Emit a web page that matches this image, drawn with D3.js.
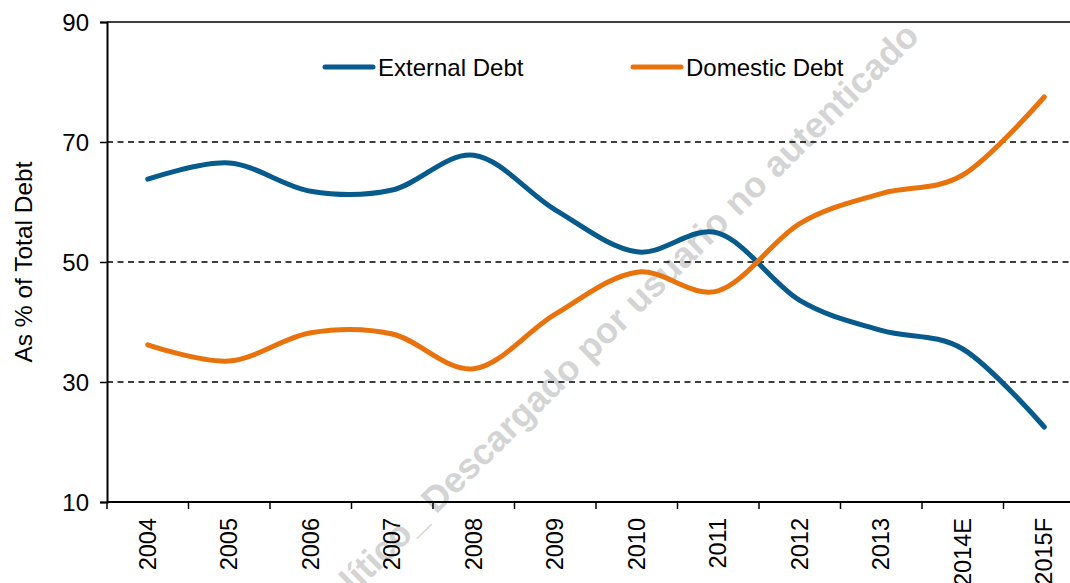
<!DOCTYPE html>
<html lang="en">
<head>
    <meta charset="UTF-8">
    <title>External vs Domestic Debt</title>
    <script src="https://d3js.org/d3.v7.min.js"></script>
    <style>
        body { margin: 0; background: #fff; overflow: hidden; }
        text { font-family: "Liberation Sans", Arial, sans-serif; fill: #000; }
    </style>
</head>
<body>
    <script>
        // Data
        const years = ["2004", "2005", "2006", "2007", "2008", "2009", "2010", "2011", "2012", "2013", "2014E", "2015F"];
        const externalDebt = [63.8, 66.5, 61.8, 62.0, 67.8, 58.7, 51.7, 54.8, 43.6, 38.6, 35.5, 22.5];
        const domesticDebt = [36.2, 33.5, 38.2, 38.0, 32.2, 41.3, 48.3, 45.2, 56.4, 61.4, 64.5, 77.5];
        const yTicks = [10, 30, 50, 70, 90];
        const gridValues = [30, 50, 70];

        const W = 1070, H = 583;
        const plotLeft = 107, plotTop = 22, plotBottom = 502;
        const bandW = 81.5;

        const svg = d3.select("body").append("svg")
            .attr("width", W)
            .attr("height", H);

        // Scales
        const x = d3.scaleBand()
            .domain(years)
            .range([plotLeft, plotLeft + bandW * years.length])
            .padding(0);

        const y = d3.scaleLinear()
            .domain([10, 90])
            .range([plotBottom, plotTop]);

        // Watermark (behind everything)
        svg.append("text")
            .attr("transform", "translate(921,38) rotate(-44.5)")
            .attr("text-anchor", "end")
            .style("font-size", "36px")
            .style("font-weight", "bold")
            .style("fill", "#d4d4d4")
            .text("Analítico_ Descargado por usuario no autenticado");

        // Dashed gridlines
        svg.selectAll(".grid")
            .data(gridValues)
            .enter()
            .append("line")
            .attr("x1", plotLeft)
            .attr("x2", W)
            .attr("y1", d => y(d))
            .attr("y2", d => y(d))
            .attr("stroke", "#000")
            .attr("stroke-width", 1.5)
            .attr("stroke-dasharray", "6,4.5");

        // Top solid line at 90
        svg.append("line")
            .attr("x1", plotLeft)
            .attr("x2", W)
            .attr("y1", y(90))
            .attr("y2", y(90))
            .attr("stroke", "#000")
            .attr("stroke-width", 1.5);

        // Y axis
        const yAxis = svg.append("g")
            .attr("transform", `translate(${plotLeft},0)`)
            .call(d3.axisLeft(y).tickValues(yTicks).tickSize(7).tickPadding(11));
        yAxis.select(".domain").attr("stroke-width", 2);
        yAxis.selectAll(".tick line").attr("stroke-width", 1.5);
        yAxis.selectAll("text")
            .style("font-size", "24px")
            .style("font-family", "Liberation Sans, Arial, sans-serif")
            .attr("dy", "0.36em");

        // X axis: ticks at band boundaries, labels at band centres
        const xAxis = svg.append("g")
            .attr("transform", `translate(0,${plotBottom})`);
        xAxis.append("line")
            .attr("x1", plotLeft)
            .attr("x2", W)
            .attr("stroke", "#000")
            .attr("stroke-width", 2);
        xAxis.selectAll(".xtick")
            .data(years)
            .enter()
            .append("line")
            .attr("x1", d => x(d))
            .attr("x2", d => x(d))
            .attr("y1", 0)
            .attr("y2", 7)
            .attr("stroke", "#000")
            .attr("stroke-width", 1.5);
        xAxis.selectAll(".xlabel")
            .data(years)
            .enter()
            .append("text")
            .attr("text-anchor", "end")
            .attr("transform", d => `translate(${x(d) + x.bandwidth() / 2 + 8},16) rotate(-90)`)
            .style("font-size", "23.5px")
            .text(d => d);

        // Y axis title
        svg.append("text")
            .attr("text-anchor", "middle")
            .attr("transform", `translate(32,${(plotTop + plotBottom) / 2}) rotate(-90)`)
            .style("font-size", "24.5px")
            .text("As % of Total Debt");

        // Lines
        const line = d3.line()
            .x((d, i) => x(years[i]) + x.bandwidth() / 2)
            .y(d => y(d))
            .curve(d3.curveCardinal.tension(0));

        const series = [
            { name: "External Debt", values: externalDebt, color: "#065a8c" },
            { name: "Domestic Debt", values: domesticDebt, color: "#e8720c" }
        ];

        svg.selectAll(".series")
            .data(series)
            .enter()
            .append("path")
            .attr("d", d => line(d.values))
            .attr("fill", "none")
            .attr("stroke", d => d.color)
            .attr("stroke-width", 5)
            .attr("stroke-linecap", "round")
            .attr("stroke-linejoin", "round");

        // Legend
        const legendX = [325, 633];
        const legend = svg.selectAll(".legend")
            .data(series)
            .enter()
            .append("g")
            .attr("transform", (d, i) => `translate(${legendX[i]},67)`);
        legend.append("line")
            .attr("x1", 0)
            .attr("x2", 48)
            .attr("stroke", d => d.color)
            .attr("stroke-width", 5)
            .attr("stroke-linecap", "round");
        legend.append("text")
            .attr("x", 53)
            .attr("dy", "0.36em")
            .style("font-size", "24px")
            .text(d => d.name);
    </script>
</body>
</html>
